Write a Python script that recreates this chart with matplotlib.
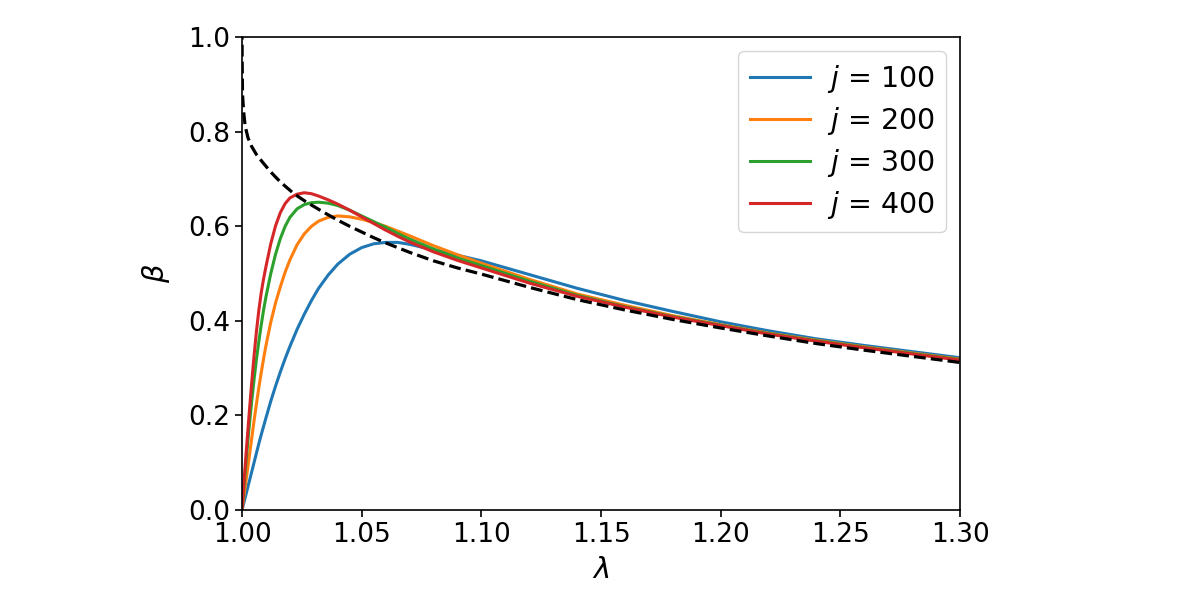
import matplotlib
matplotlib.use("Agg")
import matplotlib.pyplot as plt

# values
lam_j = [1.000, 1.001, 1.002, 1.003, 1.004, 1.005, 1.006, 1.007, 1.008, 1.009,
         1.010, 1.012, 1.014, 1.016, 1.018, 1.020, 1.023, 1.026, 1.029, 1.032,
         1.036, 1.040, 1.045, 1.050, 1.055, 1.060, 1.065, 1.070, 1.080, 1.090, 1.100,
         1.120, 1.140, 1.160, 1.180, 1.200, 1.220, 1.240, 1.260, 1.280, 1.300]

beta_100 = [0.000, 0.020, 0.040, 0.060, 0.080, 0.100, 0.120, 0.140, 0.159, 0.177,
            0.195, 0.230, 0.262, 0.292, 0.320, 0.346, 0.382, 0.414, 0.443, 0.469,
            0.497, 0.520, 0.541, 0.555, 0.563, 0.566, 0.566, 0.562, 0.550, 0.539, 0.527,
            0.498, 0.469, 0.443, 0.420, 0.398, 0.379, 0.362, 0.348, 0.335, 0.322]

beta_200 = [0.000, 0.038, 0.075, 0.112, 0.150, 0.188, 0.224, 0.258, 0.290, 0.320,
            0.348, 0.397, 0.438, 0.472, 0.503, 0.529, 0.561, 0.584, 0.600, 0.611,
            0.619, 0.622, 0.620, 0.615, 0.608, 0.600, 0.590, 0.580, 0.559, 0.540, 0.522,
            0.488, 0.457, 0.433, 0.411, 0.392, 0.374, 0.359, 0.345, 0.332, 0.319]

beta_300 = [0.000, 0.062, 0.122, 0.177, 0.228, 0.275, 0.318, 0.356, 0.391, 0.423,
            0.451, 0.500, 0.541, 0.574, 0.600, 0.619, 0.637, 0.646, 0.650, 0.651,
            0.649, 0.644, 0.634, 0.622, 0.610, 0.598, 0.585, 0.573, 0.552, 0.533, 0.517,
            0.484, 0.454, 0.430, 0.409, 0.391, 0.373, 0.358, 0.344, 0.331, 0.318]

beta_400 = [0.000, 0.072, 0.140, 0.205, 0.267, 0.325, 0.377, 0.422, 0.459, 0.489,
            0.515, 0.563, 0.601, 0.629, 0.648, 0.660, 0.668, 0.671, 0.669, 0.664,
            0.656, 0.647, 0.634, 0.620, 0.606, 0.592, 0.579, 0.567, 0.546, 0.528, 0.512,
            0.480, 0.452, 0.429, 0.408, 0.390, 0.372, 0.357, 0.343, 0.330, 0.317]

lam_lim = [1.0, 1.00005, 1.0002, 1.0006, 1.0013, 1.0025, 1.004, 1.006, 1.009, 1.012,
           1.015, 1.018, 1.021, 1.024, 1.027, 1.030, 1.034, 1.040, 1.045, 1.050,
           1.055, 1.060, 1.070, 1.080, 1.090, 1.100, 1.120, 1.140, 1.160, 1.180,
           1.200, 1.220, 1.240, 1.260, 1.280, 1.300]
beta_lim = [1.02, 0.95, 0.88, 0.846, 0.812, 0.787, 0.769, 0.752, 0.733, 0.715,
            0.699, 0.685, 0.672, 0.661, 0.651, 0.642, 0.630, 0.613, 0.600, 0.588,
            0.576, 0.565, 0.545, 0.527, 0.512, 0.499, 0.471, 0.445, 0.423, 0.403,
            0.385, 0.368, 0.352, 0.338, 0.325, 0.312]

j_values = [100, 200, 300, 400]
series = [beta_100, beta_200, beta_300, beta_400]

plt.rcParams['font.size'] = 19

fig = plt.figure(figsize=(12, 6), dpi=100)
ax = fig.add_axes([0.2017, 0.15, 0.5983, 0.788])

for j, b in zip(j_values, series):
    ax.plot(lam_j, b, lw=2.2, label=r'$j$ = %d' % j)
ax.plot(lam_lim, beta_lim, 'k--', lw=2.3)

ax.set_xlim(1.0, 1.3)
ax.set_ylim(0.0, 1.0)
ax.set_xticks([1.00, 1.05, 1.10, 1.15, 1.20, 1.25, 1.30])
ax.set_xticklabels(['1.00', '1.05', '1.10', '1.15', '1.20', '1.25', '1.30'])
ax.set_yticks([0.0, 0.2, 0.4, 0.6, 0.8, 1.0])
ax.set_yticklabels(['0.0', '0.2', '0.4', '0.6', '0.8', '1.0'])
ax.tick_params(length=5, width=1.2)
for s in ax.spines.values():
    s.set_linewidth(1.2)
ax.set_xlabel(r'$\lambda$', fontsize=21, labelpad=6)
ax.set_ylabel(r'$\beta$', fontsize=21, labelpad=12)
ax.legend(loc='upper right', fontsize=20.5, handlelength=2.1,
          handletextpad=0.6, labelspacing=0.35)

fig.savefig('out.png', dpi=100)
